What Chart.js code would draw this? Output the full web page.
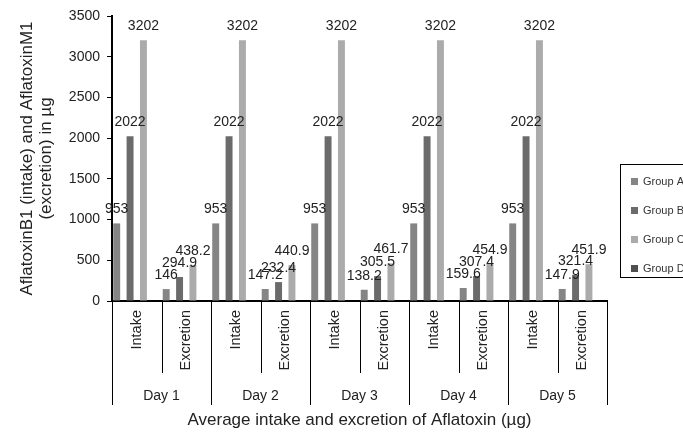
<!DOCTYPE html>
<html>
<head>
<meta charset="utf-8">
<script src="https://cdn.jsdelivr.net/npm/chart.js@4.4.1/dist/chart.umd.min.js"></script>
<style>
  html, body { margin: 0; padding: 0; background: #fff; overflow: hidden; }
  #wrap { position: relative; width: 683px; height: 432px; }
</style>
</head>
<body>
<div id="wrap"><canvas id="aflaChart" width="683" height="432"></canvas></div>
<script>
const categories = ['Intake', 'Excretion', 'Intake', 'Excretion', 'Intake', 'Excretion', 'Intake', 'Excretion', 'Intake', 'Excretion'];
const days = ['Day 1', 'Day 2', 'Day 3', 'Day 4', 'Day 5'];
const groupNames = ['Group A', 'Group B', 'Group C', 'Group D'];
const groupA = [953, 146, 953, 147.2, 953, 138.2, 953, 159.6, 953, 147.9];
const groupB = [2022, 294.9, 2022, 232.4, 2022, 305.5, 2022, 307.4, 2022, 321.4];
const groupC = [3202, 438.2, 3202, 440.9, 3202, 461.7, 3202, 454.9, 3202, 451.9];
const groupD = [0, 0, 0, 0, 0, 0, 0, 0, 0, 0];
const yTicks = [0, 500, 1000, 1500, 2000, 2500, 3000, 3500];

const colours = ['#858585', '#6b6b6b', '#ababab', '#505050'];
const fontFamily = '"Liberation Sans", Arial, Helvetica, sans-serif';
const textColour = '#222';

// value labels above each bar
const barValues = {
  id: 'barValues',
  afterDatasetsDraw(chart) {
    const ctx = chart.ctx;
    ctx.save();
    ctx.font = '14px ' + fontFamily;
    ctx.fillStyle = textColour;
    ctx.textAlign = 'center';
    ctx.textBaseline = 'middle';
    chart.data.datasets.forEach((ds, i) => {
      chart.getDatasetMeta(i).data.forEach((bar, j) => {
        const v = ds.data[j];
        if (!v) return;
        ctx.fillText(String(v), bar.x, bar.y - 14);
      });
    });
    ctx.restore();
  }
};

// vertical separators under the category axis (short inside a day, long between days)
const groupLines = {
  id: 'groupLines',
  afterDraw(chart) {
    const x = chart.scales.x;
    const x2 = chart.scales.x2;
    const step = x.width / categories.length;
    const ctx = chart.ctx;
    ctx.save();
    ctx.strokeStyle = '#000';
    ctx.lineWidth = 1;
    for (let i = 0; i <= categories.length; i++) {
      const px = Math.round(x.left + i * step) + 0.5;
      const end = i % 2 === 0 ? x2.top + 31 : x.bottom - 1;
      ctx.beginPath();
      ctx.moveTo(px, x.top);
      ctx.lineTo(px, end);
      ctx.stroke();
    }
    ctx.restore();
  }
};

// boxed legend on the right, running off the edge of the canvas
const boxedLegend = {
  id: 'boxedLegend',
  afterDraw(chart) {
    const ctx = chart.ctx;
    const left = 620, top = 164;
    ctx.save();
    ctx.strokeStyle = '#000';
    ctx.lineWidth = 1;
    ctx.strokeRect(left + 0.5, top + 0.5, 120, 113);
    ctx.font = '11px ' + fontFamily;
    ctx.textBaseline = 'middle';
    chart.data.datasets.forEach((ds, i) => {
      const cy = top + 17 + i * 29;
      ctx.fillStyle = ds.backgroundColor;
      ctx.fillRect(left + 11, cy - 3, 7, 7);
      ctx.fillStyle = '#333';
      ctx.fillText(ds.label, left + 23, cy + 0.5);
    });
    ctx.restore();
  }
};

const series = [groupA, groupB, groupC, groupD];

new Chart(document.getElementById('aflaChart'), {
  type: 'bar',
  data: {
    labels: categories,
    datasets: series.map((vals, i) => ({
      label: groupNames[i],
      data: vals,
      backgroundColor: colours[i],
      borderWidth: 0,
      categoryPercentage: 1.08,
      barPercentage: 0.52,
      xAxisID: 'x',
    })),
  },
  options: {
    responsive: false,
    animation: false,
    devicePixelRatio: 1,
    layout: { padding: { top: 16, right: 76, left: 0, bottom: 0 } },
    plugins: {
      legend: { display: false },
      tooltip: { enabled: false },
    },
    scales: {
      y: {
        min: 0,
        max: 3500,
        afterBuildTicks: (scale) => { scale.ticks = yTicks.map(v => ({ value: v })); },
        afterFit: (scale) => { scale.width = 112; },
        grid: { drawOnChartArea: false, drawTicks: true, tickLength: 5, color: '#000' },
        border: { color: '#000', width: 2 },
        ticks: {
          padding: 7, color: textColour, font: { family: fontFamily, size: 14 },
          callback: (v) => String(v),
        },
        title: {
          display: true,
          text: ['AflatoxinB1 (intake) and AflatoxinM1', '(excretion) in µg'],
          color: textColour,
          font: { family: fontFamily, size: 17, lineHeight: 1.12 },
          padding: { top: 18, bottom: 0 },
        },
      },
      x: {
        weight: 0,
        afterFit: (scale) => { scale.height = 73; },
        grid: { display: false, drawTicks: false },
        border: { color: '#000', width: 2 },
        ticks: {
          minRotation: 90, maxRotation: 90, padding: 9,
          color: textColour, font: { family: fontFamily, size: 14.5 },
        },
      },
      x2: {
        type: 'category',
        position: 'bottom',
        weight: 1,
        labels: days,
        offset: true,
        afterFit: (scale) => { scale.height = 58; },
        grid: { display: false, drawTicks: false },
        border: { display: false },
        ticks: { padding: 14, color: textColour, font: { family: fontFamily, size: 14 } },
        title: {
          display: true,
          text: 'Average intake and excretion of Aflatoxin (µg)',
          color: textColour,
          font: { family: fontFamily, size: 17 },
          padding: { top: 0, bottom: 1 },
        },
      },
    },
  },
  plugins: [barValues, groupLines, boxedLegend],
});
</script>
</body>
</html>
